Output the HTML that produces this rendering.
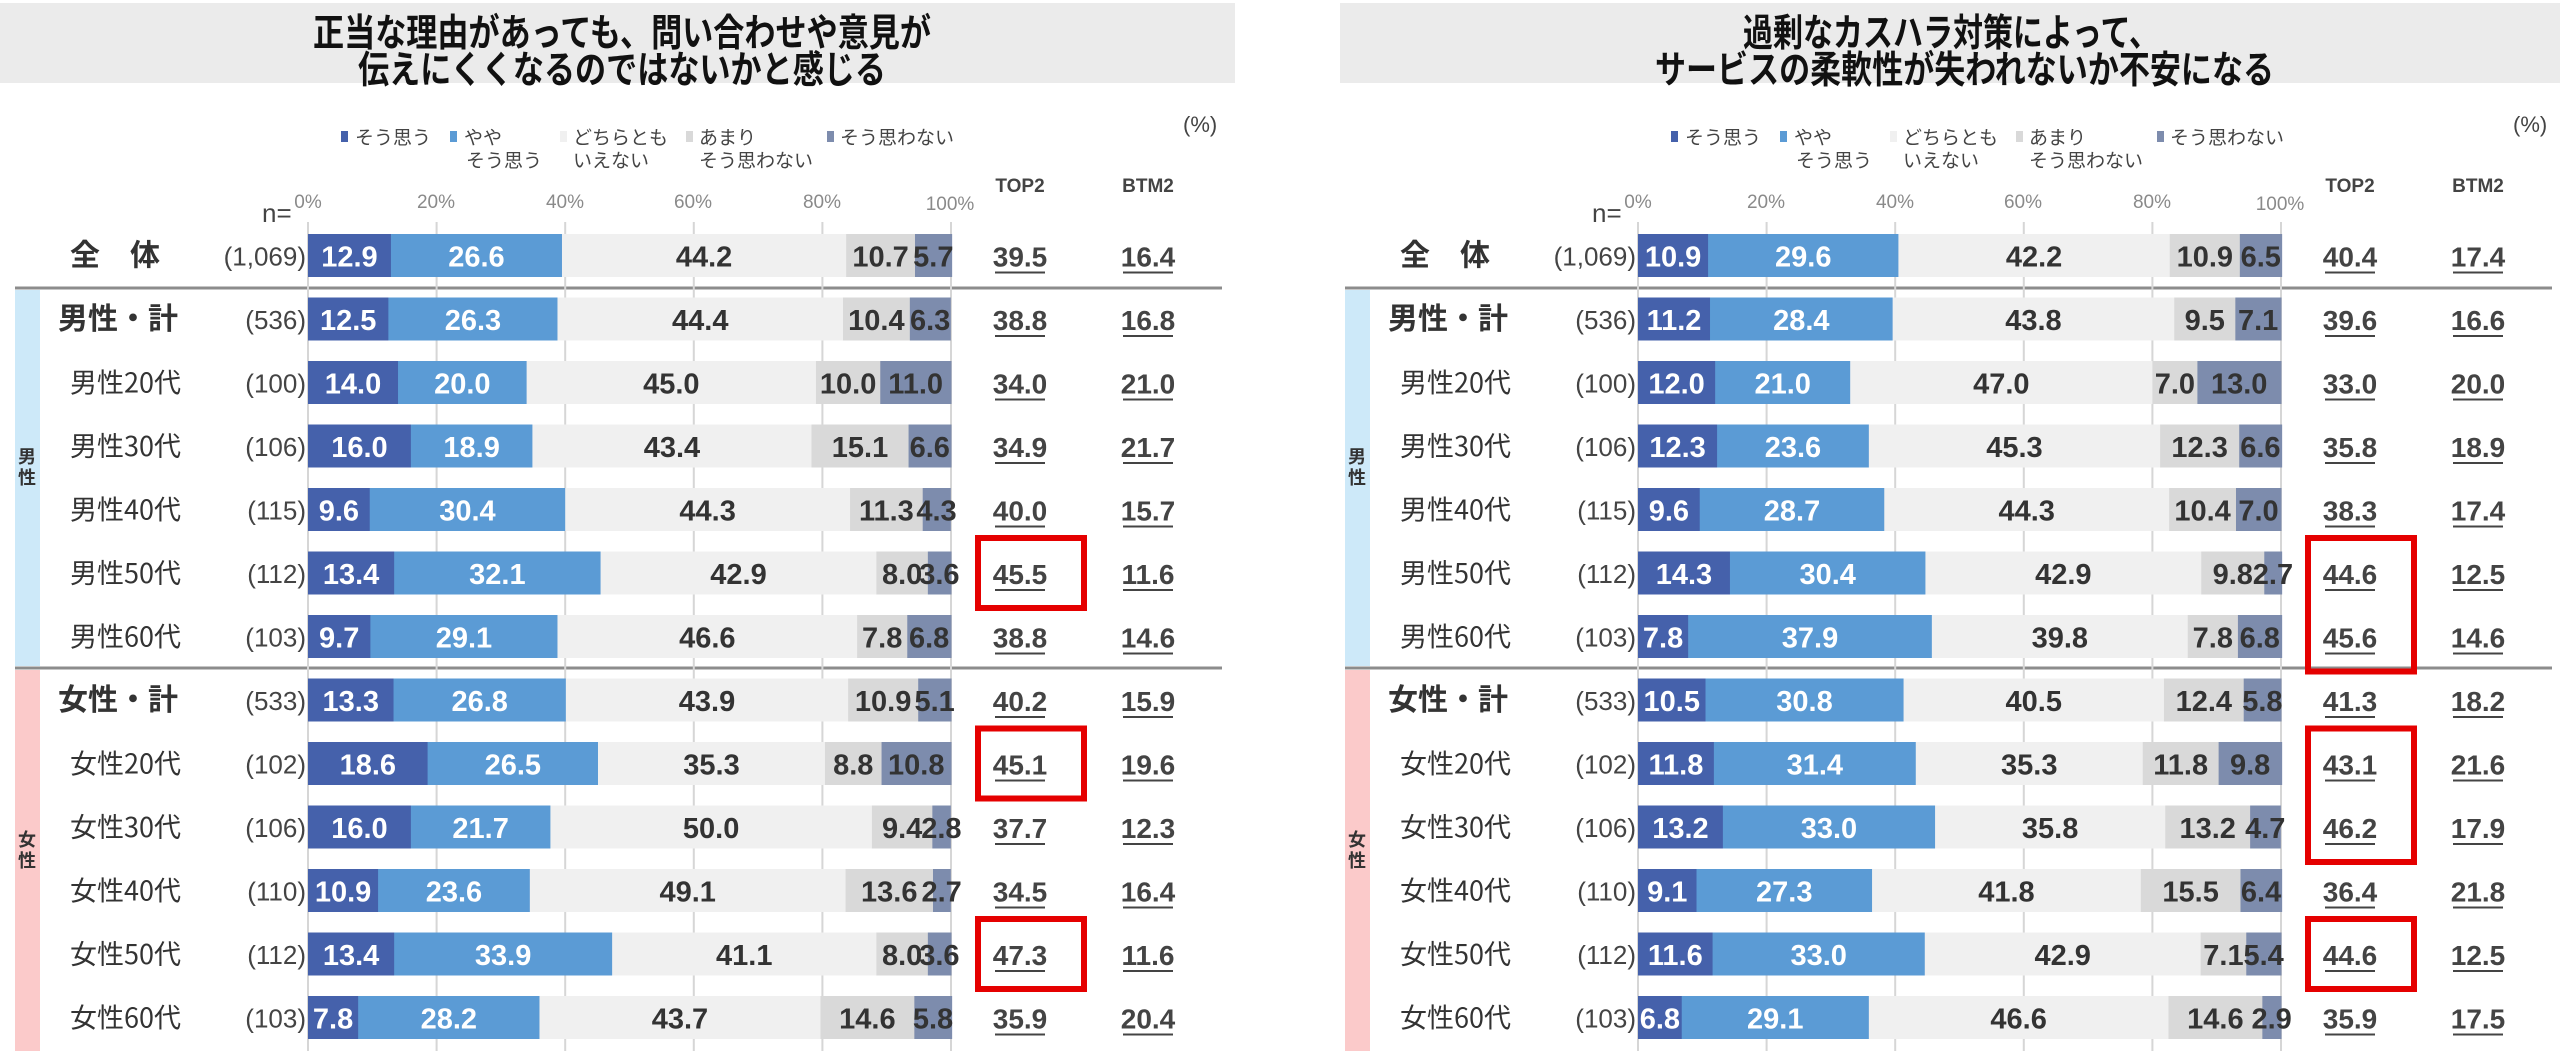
<!DOCTYPE html>
<html><head><meta charset="utf-8">
<style>
html,body{margin:0;padding:0;background:#fff;}
svg{display:block;}
text{font-family:"Liberation Sans Narrow","Liberation Sans","Noto Sans CJK JP",sans-serif;}
.jp{font-family:"Liberation Sans","Noto Sans CJK JP",sans-serif;}
.title{font-family:"Noto Sans CJK JP",sans-serif;font-weight:bold;font-size:38px;fill:#111;}
.leg{font-family:"Noto Sans CJK JP",sans-serif;font-size:19px;fill:#444;}
.tick{font-family:"Liberation Sans",sans-serif;font-size:19px;fill:#8a8a8a;}
.hdr{font-family:"Liberation Sans Narrow","Liberation Sans",sans-serif;font-weight:bold;font-size:19px;fill:#444;}
.lab{font-family:"Noto Sans CJK JP",sans-serif;font-size:27px;fill:#333;}
.lab.b{font-size:30px;font-weight:bold;}
.n{font-size:26px;fill:#444;}
.v{font-size:29px;font-weight:bold;}
.t,.t2{font-size:28px;font-weight:bold;fill:#444;}
.side{font-family:"Noto Sans CJK JP",sans-serif;font-size:18px;font-weight:bold;fill:#333;}
</style></head>
<body>
<svg id="s" width="2560" height="1051" viewBox="0 0 2560 1051" xmlns="http://www.w3.org/2000/svg">
<rect x="0" y="3" width="1235" height="80" fill="#ebebeb"/>
<rect x="1340" y="3" width="1220" height="80" fill="#ebebeb"/>
<text class="title" x="313" y="46" textLength="618" lengthAdjust="spacingAndGlyphs">正当な理由があっても、問い合わせや意見が</text>
<text class="title" x="358" y="83" textLength="528" lengthAdjust="spacingAndGlyphs">伝えにくくなるのではないかと感じる</text>
<text class="title" x="1743" y="46" textLength="416" lengthAdjust="spacingAndGlyphs">過剰なカスハラ対策によって、</text>
<text class="title" x="1655" y="83" textLength="619" lengthAdjust="spacingAndGlyphs">サービスの柔軟性が失われないか不安になる</text>

<g id="p0" class="panel">
<g class="static">
<rect x="15" y="290" width="25" height="376" fill="#cde9f9"/>
<rect x="15" y="670" width="25" height="381" fill="#fbcaca"/>
<text class="side" x="27" y="463" text-anchor="middle">男</text>
<text class="side" x="27" y="484" text-anchor="middle">性</text>
<text class="side" x="27" y="846" text-anchor="middle">女</text>
<text class="side" x="27" y="867" text-anchor="middle">性</text>
<rect x="341" y="131" width="7" height="11" fill="#4561ab"/><text class="leg" x="355" y="144">そう思う</text>
<rect x="450" y="131" width="7" height="11" fill="#5b9bd5"/><text class="leg" x="464" y="144">やや</text><text class="leg" x="466" y="167">そう思う</text>
<rect x="560" y="131" width="7" height="11" fill="#f0f0f0"/><text class="leg" x="573" y="144">どちらとも</text><text class="leg" x="573" y="167">いえない</text>
<rect x="686" y="131" width="7" height="11" fill="#d9d9d9"/><text class="leg" x="699" y="144">あまり</text><text class="leg" x="699" y="167">そう思わない</text>
<rect x="827" y="131" width="7" height="11" fill="#7d8cad"/><text class="leg" x="840" y="144">そう思わない</text>
<text class="jp" x="1183" y="132" font-size="22" fill="#444">(%)</text>
<text class="hdr" x="1020" y="192" text-anchor="middle">TOP2</text>
<text class="hdr" x="1148" y="192" text-anchor="middle">BTM2</text>
<text class="n" x="262" y="222" font-size="22">n=</text>
<text class="tick" x="308" y="208" text-anchor="middle">0%</text>
<text class="tick" x="436" y="208" text-anchor="middle">20%</text>
<text class="tick" x="565" y="208" text-anchor="middle">40%</text>
<text class="tick" x="693" y="208" text-anchor="middle">60%</text>
<text class="tick" x="822" y="208" text-anchor="middle">80%</text>
<text class="tick" x="950" y="210" text-anchor="middle">100%</text>
</g>
<g class="row"><text class="lab b">全　体</text><text class="n">(1,069)</text><text class="v">12.9</text><text class="v">26.6</text><text class="v">44.2</text><text class="v">10.7</text><text class="v">5.7</text><text class="t">39.5</text><text class="t2">16.4</text></g>
<g class="row"><text class="lab b">男性・計</text><text class="n">(536)</text><text class="v">12.5</text><text class="v">26.3</text><text class="v">44.4</text><text class="v">10.4</text><text class="v">6.3</text><text class="t">38.8</text><text class="t2">16.8</text></g>
<g class="row"><text class="lab">男性20代</text><text class="n">(100)</text><text class="v">14.0</text><text class="v">20.0</text><text class="v">45.0</text><text class="v">10.0</text><text class="v">11.0</text><text class="t">34.0</text><text class="t2">21.0</text></g>
<g class="row"><text class="lab">男性30代</text><text class="n">(106)</text><text class="v">16.0</text><text class="v">18.9</text><text class="v">43.4</text><text class="v">15.1</text><text class="v">6.6</text><text class="t">34.9</text><text class="t2">21.7</text></g>
<g class="row"><text class="lab">男性40代</text><text class="n">(115)</text><text class="v">9.6</text><text class="v">30.4</text><text class="v">44.3</text><text class="v">11.3</text><text class="v">4.3</text><text class="t">40.0</text><text class="t2">15.7</text></g>
<g class="row"><text class="lab">男性50代</text><text class="n">(112)</text><text class="v">13.4</text><text class="v">32.1</text><text class="v">42.9</text><text class="v">8.0</text><text class="v">3.6</text><text class="t">45.5</text><text class="t2">11.6</text></g>
<g class="row"><text class="lab">男性60代</text><text class="n">(103)</text><text class="v">9.7</text><text class="v">29.1</text><text class="v">46.6</text><text class="v">7.8</text><text class="v">6.8</text><text class="t">38.8</text><text class="t2">14.6</text></g>
<g class="row"><text class="lab b">女性・計</text><text class="n">(533)</text><text class="v">13.3</text><text class="v">26.8</text><text class="v">43.9</text><text class="v">10.9</text><text class="v">5.1</text><text class="t">40.2</text><text class="t2">15.9</text></g>
<g class="row"><text class="lab">女性20代</text><text class="n">(102)</text><text class="v">18.6</text><text class="v">26.5</text><text class="v">35.3</text><text class="v">8.8</text><text class="v">10.8</text><text class="t">45.1</text><text class="t2">19.6</text></g>
<g class="row"><text class="lab">女性30代</text><text class="n">(106)</text><text class="v">16.0</text><text class="v">21.7</text><text class="v">50.0</text><text class="v">9.4</text><text class="v">2.8</text><text class="t">37.7</text><text class="t2">12.3</text></g>
<g class="row"><text class="lab">女性40代</text><text class="n">(110)</text><text class="v">10.9</text><text class="v">23.6</text><text class="v">49.1</text><text class="v">13.6</text><text class="v">2.7</text><text class="t">34.5</text><text class="t2">16.4</text></g>
<g class="row"><text class="lab">女性50代</text><text class="n">(112)</text><text class="v">13.4</text><text class="v">33.9</text><text class="v">41.1</text><text class="v">8.0</text><text class="v">3.6</text><text class="t">47.3</text><text class="t2">11.6</text></g>
<g class="row"><text class="lab">女性60代</text><text class="n">(103)</text><text class="v">7.8</text><text class="v">28.2</text><text class="v">43.7</text><text class="v">14.6</text><text class="v">5.8</text><text class="t">35.9</text><text class="t2">20.4</text></g>
</g>

<g id="p1" class="panel" transform="translate(1330,0)">
<g class="static">
<rect x="15" y="290" width="25" height="376" fill="#cde9f9"/>
<rect x="15" y="670" width="25" height="381" fill="#fbcaca"/>
<text class="side" x="27" y="463" text-anchor="middle">男</text>
<text class="side" x="27" y="484" text-anchor="middle">性</text>
<text class="side" x="27" y="846" text-anchor="middle">女</text>
<text class="side" x="27" y="867" text-anchor="middle">性</text>
<rect x="341" y="131" width="7" height="11" fill="#4561ab"/><text class="leg" x="355" y="144">そう思う</text>
<rect x="450" y="131" width="7" height="11" fill="#5b9bd5"/><text class="leg" x="464" y="144">やや</text><text class="leg" x="466" y="167">そう思う</text>
<rect x="560" y="131" width="7" height="11" fill="#f0f0f0"/><text class="leg" x="573" y="144">どちらとも</text><text class="leg" x="573" y="167">いえない</text>
<rect x="686" y="131" width="7" height="11" fill="#d9d9d9"/><text class="leg" x="699" y="144">あまり</text><text class="leg" x="699" y="167">そう思わない</text>
<rect x="827" y="131" width="7" height="11" fill="#7d8cad"/><text class="leg" x="840" y="144">そう思わない</text>
<text class="jp" x="1183" y="132" font-size="22" fill="#444">(%)</text>
<text class="hdr" x="1020" y="192" text-anchor="middle">TOP2</text>
<text class="hdr" x="1148" y="192" text-anchor="middle">BTM2</text>
<text class="n" x="262" y="222" font-size="22">n=</text>
<text class="tick" x="308" y="208" text-anchor="middle">0%</text>
<text class="tick" x="436" y="208" text-anchor="middle">20%</text>
<text class="tick" x="565" y="208" text-anchor="middle">40%</text>
<text class="tick" x="693" y="208" text-anchor="middle">60%</text>
<text class="tick" x="822" y="208" text-anchor="middle">80%</text>
<text class="tick" x="950" y="210" text-anchor="middle">100%</text>
</g>
<g class="row"><text class="lab b">全　体</text><text class="n">(1,069)</text><text class="v">10.9</text><text class="v">29.6</text><text class="v">42.2</text><text class="v">10.9</text><text class="v">6.5</text><text class="t">40.4</text><text class="t2">17.4</text></g>
<g class="row"><text class="lab b">男性・計</text><text class="n">(536)</text><text class="v">11.2</text><text class="v">28.4</text><text class="v">43.8</text><text class="v">9.5</text><text class="v">7.1</text><text class="t">39.6</text><text class="t2">16.6</text></g>
<g class="row"><text class="lab">男性20代</text><text class="n">(100)</text><text class="v">12.0</text><text class="v">21.0</text><text class="v">47.0</text><text class="v">7.0</text><text class="v">13.0</text><text class="t">33.0</text><text class="t2">20.0</text></g>
<g class="row"><text class="lab">男性30代</text><text class="n">(106)</text><text class="v">12.3</text><text class="v">23.6</text><text class="v">45.3</text><text class="v">12.3</text><text class="v">6.6</text><text class="t">35.8</text><text class="t2">18.9</text></g>
<g class="row"><text class="lab">男性40代</text><text class="n">(115)</text><text class="v">9.6</text><text class="v">28.7</text><text class="v">44.3</text><text class="v">10.4</text><text class="v">7.0</text><text class="t">38.3</text><text class="t2">17.4</text></g>
<g class="row"><text class="lab">男性50代</text><text class="n">(112)</text><text class="v">14.3</text><text class="v">30.4</text><text class="v">42.9</text><text class="v">9.8</text><text class="v">2.7</text><text class="t">44.6</text><text class="t2">12.5</text></g>
<g class="row"><text class="lab">男性60代</text><text class="n">(103)</text><text class="v">7.8</text><text class="v">37.9</text><text class="v">39.8</text><text class="v">7.8</text><text class="v">6.8</text><text class="t">45.6</text><text class="t2">14.6</text></g>
<g class="row"><text class="lab b">女性・計</text><text class="n">(533)</text><text class="v">10.5</text><text class="v">30.8</text><text class="v">40.5</text><text class="v">12.4</text><text class="v">5.8</text><text class="t">41.3</text><text class="t2">18.2</text></g>
<g class="row"><text class="lab">女性20代</text><text class="n">(102)</text><text class="v">11.8</text><text class="v">31.4</text><text class="v">35.3</text><text class="v">11.8</text><text class="v">9.8</text><text class="t">43.1</text><text class="t2">21.6</text></g>
<g class="row"><text class="lab">女性30代</text><text class="n">(106)</text><text class="v">13.2</text><text class="v">33.0</text><text class="v">35.8</text><text class="v">13.2</text><text class="v">4.7</text><text class="t">46.2</text><text class="t2">17.9</text></g>
<g class="row"><text class="lab">女性40代</text><text class="n">(110)</text><text class="v">9.1</text><text class="v">27.3</text><text class="v">41.8</text><text class="v">15.5</text><text class="v">6.4</text><text class="t">36.4</text><text class="t2">21.8</text></g>
<g class="row"><text class="lab">女性50代</text><text class="n">(112)</text><text class="v">11.6</text><text class="v">33.0</text><text class="v">42.9</text><text class="v">7.1</text><text class="v">5.4</text><text class="t">44.6</text><text class="t2">12.5</text></g>
<g class="row"><text class="lab">女性60代</text><text class="n">(103)</text><text class="v">6.8</text><text class="v">29.1</text><text class="v">46.6</text><text class="v">14.6</text><text class="v">2.9</text><text class="t">35.9</text><text class="t2">17.5</text></g>
</g>
</svg>
<script>
(function(){
var NS="http://www.w3.org/2000/svg";
var X0=308,W=643,P=63.5,C0=255.5,H=43;
var cols=["#4561ab","#5b9bd5","#f0f0f0","#d9d9d9","#7d8cad"];
var tcol=["#fff","#fff","#333","#333","#333"];
function mk(tag,attrs,parent,first){var e=document.createElementNS(NS,tag);for(var k in attrs)e.setAttribute(k,attrs[k]);if(first)parent.insertBefore(e,first);else parent.appendChild(e);return e;}
var boxes={p0:[[5,5],[8,8],[11,11]],p1:[[5,6],[8,9],[11,11]]};
["p0","p1"].forEach(function(pid){
  var p=document.getElementById(pid);
  var st=p.querySelector(".static");
  var bg=mk("g",{},p,st.nextSibling);
  [288,668].forEach(function(y){mk("line",{x1:15,x2:1222,y1:y,y2:y,stroke:"#8c8c8c","stroke-width":3},bg);});
  for(var g=0;g<=5;g++){var x=X0+W*g/5;mk("line",{x1:x,x2:x,y1:222,y2:1051,stroke:"#d6d6d6","stroke-width":2},bg);}
  var rows=p.querySelectorAll(".row");
  rows.forEach(function(r,i){
    var cy=C0+P*i;
    r.setAttribute("transform","translate(0,"+cy+")");
    var lab=r.querySelector(".lab");
    lab.setAttribute("x",lab.classList.contains("b")?(i==0?70:58):70);
    lab.setAttribute("y",10);
    var n=r.querySelector(".n");n.setAttribute("x",306);n.setAttribute("y",10);n.setAttribute("text-anchor","end");
    var vs=r.querySelectorAll(".v");var cum=0;
    var first=r.firstChild;
    vs.forEach(function(v,k){
      var val=parseFloat(v.textContent);
      var x=X0+W*cum/100,w=W*val/100;
      mk("rect",{x:x,y:-H/2,width:w+0.5,height:H,fill:cols[k]},r,first);
      v.setAttribute("x",x+w/2);v.setAttribute("y",11);v.setAttribute("text-anchor","middle");v.setAttribute("fill",tcol[k]);
      cum+=val;
    });
    [[".t",1020],[".t2",1148]].forEach(function(a){
      var t=r.querySelector(a[0]);t.setAttribute("x",a[1]);t.setAttribute("y",11);t.setAttribute("text-anchor","middle");
      mk("line",{x1:a[1]-25,x2:a[1]+25,y1:17,y2:17,stroke:"#444","stroke-width":2},r);
    });
  });
  boxes[pid].forEach(function(b){
    var y1=C0+P*b[0]-35,y2=C0+P*b[1]+35;
    mk("rect",{x:978,y:y1,width:106,height:y2-y1,fill:"none",stroke:"#e50000","stroke-width":6},p);
  });
});
})();
</script>
</body></html>
